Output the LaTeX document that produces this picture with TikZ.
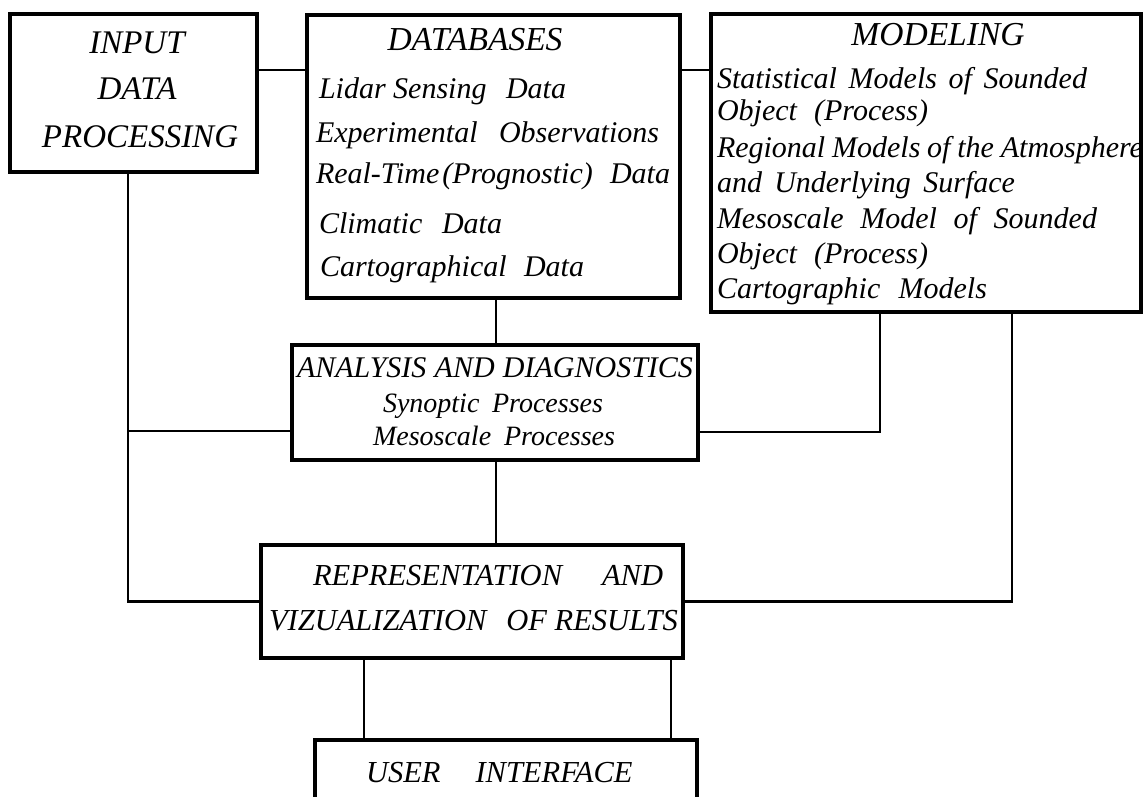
\documentclass[tikz,border=0pt]{standalone}
\usepackage{fontspec}
\setmainfont{Liberation Serif}
\newcommand\wl[2]{\makebox[#1pt][s]{#2}}
\begin{document}
\begin{tikzpicture}[x=1pt,y=-1pt,
  box/.style={draw,line width=4.5pt,rectangle,inner sep=0pt,outer sep=0pt},
  conn/.style={line width=2.6pt},
  lbl/.style={inner sep=0pt,outer sep=0pt,anchor=base west,font=\fontsize{30}{36}\selectfont\itshape},
  lblc/.style={lbl,anchor=base},
  big/.style={font=\fontsize{33}{40}\selectfont\itshape},
  ttl/.style={font=\fontsize{33.5}{40}\selectfont\itshape},
  small/.style={font=\fontsize{28}{34}\selectfont\itshape},
  mid/.style={font=\fontsize{30.5}{36}\selectfont\itshape}]
\useasboundingbox (0,0) rectangle (1146,796);
\fill[white] (0,0) rectangle (1146,796);
\clip (0,0) rectangle (1146,796);

% boxes
\node[box,minimum width=247pt,minimum height=158pt] (inp) at (133.5,93) {};
\node[box,minimum width=373pt,minimum height=283pt] (db) at (493.5,156.5) {};
\node[box,minimum width=430pt,minimum height=298pt] (mod) at (926,163) {};
\node[box,minimum width=406pt,minimum height=115pt] (an) at (495,402.5) {};
\node[box,minimum width=422pt,minimum height=113pt] (rep) at (472,601.5) {};
\node[box,minimum width=382pt,minimum height=110pt] (ui) at (506,795) {};

% input text
\node[lblc,big] (tin1) at (137,53) {INPUT};
\node[lblc,big] (tin2) at (137,99) {DATA};
\node[lblc,big] (tin3) at (140,147) {PROCESSING};

% databases text
\node[lblc,ttl] (tdb0) at (475,50) {DATABASES};
\node[lbl] (tdb1) at (319,98) {Lidar Sensing\hspace{12pt} Data};
\node[lbl] (tdb2) at (316,142) {\wl{343}{Experimental Observations}};
\node[lbl] (tdb3) at (316,183) {\wl{354}{Real-Time\hspace{3pt}(Prognostic) Data}};
\node[lbl] (tdb4) at (319,233) {\wl{183}{Climatic Data}};
\node[lbl] (tdb5) at (320,276) {\wl{264}{Cartographical Data}};

% modeling text
\node[lblc,ttl] (tm0) at (938,45) {MODELING};
\node[lbl] (tm1) at (717,88) {\wl{370}{Statistical Models of Sounded}};
\node[lbl] (tm2) at (717,120) {\wl{211}{Object (Process)}};
\node[lbl] (tm3) at (717,157) {\wl{426}{Regional Models of the Atmosphere}};
\node[lbl] (tm4) at (717,192) {\wl{298}{and Underlying Surface}};
\node[lbl] (tm5) at (717,228) {\wl{380}{Mesoscale Model of Sounded}};
\node[lbl] (tm6) at (717,263) {\wl{211}{Object (Process)}};
\node[lbl] (tm7) at (717,298) {\wl{270}{Cartographic Models}};

% analysis text
\node[lbl] (ta0) at (297,377) {\wl{396}{ANALYSIS AND DIAGNOSTICS}};
\node[lbl,small] (ta1) at (383,412) {\wl{220}{Synoptic Processes}};
\node[lbl,small] (ta2) at (373,445) {\wl{242}{Mesoscale Processes}};

% representation text
\node[lbl,mid] (tr1) at (313,585) {REPRESENTATION\hspace{40pt}AND};
\node[lbl,mid] (tr2) at (269,630) {VIZUALIZATION\hspace{20pt}OF RESULTS};

% user interface text
\node[lbl,mid] (tu1) at (366,782) {USER\hspace{35pt}INTERFACE};

% connector helper coordinates
\coordinate (yTop) at (0,70);
\coordinate (xMid) at (496,0);
\coordinate (xIn) at (128,0);
\coordinate (yAnL) at (0,431);
\coordinate (yAnR) at (0,432);
\coordinate (xM1) at (880,0);
\coordinate (xM2) at (1012,0);
\coordinate (xU1) at (364,0);
\coordinate (xU2) at (671,0);

% connectors
\draw[conn] (inp.east |- yTop) -- (db.west |- yTop);
\draw[conn] (db.east |- yTop) -- (mod.west |- yTop);
\draw[conn] (db.south -| xMid) -- (an.north -| xMid);
\draw[conn] (an.south -| xMid) -- (rep.north -| xMid);
\draw[conn] (inp.south -| xIn) |- (rep.west);
\draw[conn] (xIn |- yAnL) -- (an.west |- yAnL);
\draw[conn] (mod.south -| xM1) |- (an.east |- yAnR);
\draw[conn] (mod.south -| xM2) |- (rep.east);
\draw[conn] (rep.south -| xU1) -- (ui.north -| xU1);
\draw[conn] (rep.south -| xU2) -- (ui.north -| xU2);
\end{tikzpicture}
\end{document}
